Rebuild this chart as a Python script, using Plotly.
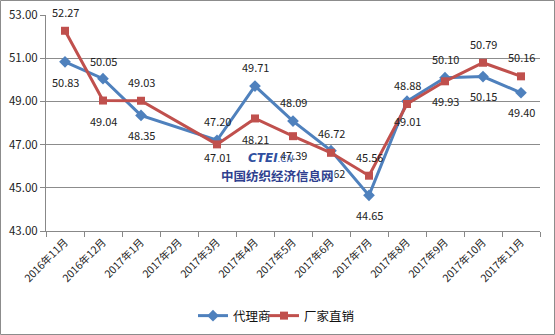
import plotly.graph_objects as go

categories = ["2016年11月", "2016年12月", "2017年1月", "2017年2月", "2017年3月", "2017年4月",
              "2017年5月", "2017年6月", "2017年7月", "2017年8月", "2017年9月", "2017年10月", "2017年11月"]
agent = [50.83, 50.05, 48.35, None, 47.20, 49.71, 48.09, 46.72, 44.65, 49.01, 50.10, 50.15, 49.40]
direct = [52.27, 49.04, 49.03, None, 47.01, 48.21, 47.39, 46.62, 45.56, 48.88, 49.93, 50.79, 50.16]
y_ticks = [43, 45, 47, 49, 51, 53]

# label offsets in pixels (style): negative = above, positive = below
agent_off = [20, -18, 20, 0, -19, -19, -19, -18, 20, 20, -19, 19, 19]
direct_off = [-19, 20, -19, 0, 13, 21, 19, 20, -19, -19, 20, -19, -19]

BLUE = "#4F81BD"
RED = "#C0504D"
FONT = "Noto Sans CJK SC"

W, H = 555, 335
ML, MR, MT, MB = 46, 15, 15, 104
PW, PH = W - ML - MR, H - MT - MB


def px(xp):
    return (xp - ML) / PW


def py(yp):
    return (H - MB - yp) / PH


fig = go.Figure()
fig.add_trace(go.Scatter(x=categories, y=agent, name="代理商", mode="lines+markers",
                         connectgaps=True, line=dict(color=BLUE, width=3),
                         marker=dict(symbol="diamond", size=9, color=BLUE), legend="legend"))
fig.add_trace(go.Scatter(x=categories, y=direct, name="厂家直销", mode="lines+markers",
                         connectgaps=True, line=dict(color=RED, width=3),
                         marker=dict(symbol="square", size=8, color=RED), legend="legend2"))

annotations = []
for series, offs in ((agent, agent_off), (direct, direct_off)):
    for c, v, o in zip(categories, series, offs):
        if v is None:
            continue
        annotations.append(dict(x=c, y=v, xref="x", yref="y", text=f"{v:.2f}",
                                showarrow=False, yshift=-o, xanchor="center", yanchor="middle",
                                font=dict(family=FONT, size=11, color="#222")))

# watermark
annotations.append(dict(x=px(277), y=py(175), xref="paper", yref="paper",
                        xanchor="center", yanchor="middle",
                        text="<b>中国纺织经济信息网</b>", showarrow=False,
                        bgcolor="white", borderpad=0,
                        font=dict(family=FONT, size=12.5, color="#2F3F8F")))
annotations.append(dict(x=px(271), y=py(158), xref="paper", yref="paper",
                        xanchor="center", yanchor="middle",
                        text="<b><i>CTEI</i></b><i><span style='font-size:9px'>.CN</span></i>",
                        showarrow=False,
                        font=dict(family="DejaVu Sans", size=12, color="#2F4FA0")))

legend_common = dict(orientation="h", xanchor="left", yanchor="middle", y=py(316),
                     font=dict(family=FONT, size=12.5, color="#111"), itemwidth=30,
                     bgcolor="rgba(0,0,0,0)")

fig.update_layout(
    width=W, height=H,
    margin=dict(l=ML, r=MR, t=MT, b=MB, autoexpand=False),
    paper_bgcolor="white", plot_bgcolor="white",
    font=dict(family=FONT, size=12, color="#222"),
    showlegend=True,
    legend=dict(x=px(193), **legend_common),
    legend2=dict(x=px(264), **legend_common),
    annotations=annotations,
    shapes=[dict(type="rect", xref="paper", yref="paper",
                 x0=px(0.5), x1=px(554.5), y0=py(334.5), y1=py(0.5),
                 line=dict(color="#8C8C8C", width=1), layer="below")],
    xaxis=dict(type="category", tickson="boundaries", ticks="outside", ticklen=5,
               tickcolor="#888", showline=True, linecolor="#888", linewidth=1,
               showgrid=False, tickangle=-45, range=[-0.5, 12.5], automargin=False,
               tickfont=dict(family=FONT, size=10.5, color="#222")),
    yaxis=dict(range=[43, 53], tickvals=y_ticks, ticktext=[f"{t:.2f}" for t in y_ticks],
               ticks="outside", ticklen=5, tickcolor="#888", showline=True,
               linecolor="#888", linewidth=1, showgrid=True, gridcolor="#8C8C8C",
               gridwidth=1, zeroline=False, automargin=False,
               tickfont=dict(family=FONT, size=11.5, color="#222")),
)

fig.write_html("out.html")
